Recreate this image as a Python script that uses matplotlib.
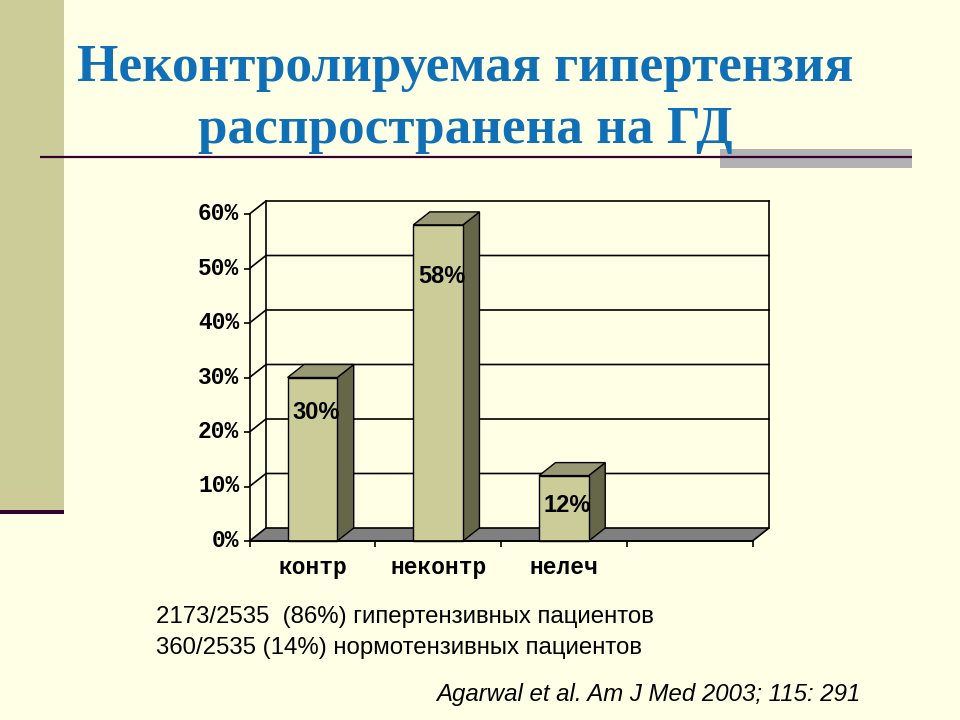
import matplotlib
matplotlib.use('Agg')
import matplotlib.pyplot as plt
from matplotlib.patches import Polygon, Rectangle
from matplotlib.transforms import ScaledTranslation

categories = ['контр', 'неконтр', 'нелеч', '']
values = [30, 58, 12]
bar_labels = ['30%', '58%', '12%']
y_ticks = [0, 10, 20, 30, 40, 50, 60]

bg = '#FFFFE5'
band = '#CCCC99'
dark = '#330033'
blue = '#0F6FB7'

W, H = 960, 720
fig = plt.figure(figsize=(9.6, 7.2), dpi=100, facecolor=bg)

# slide decoration, in pixels
deco = fig.add_axes([0, 0, 1, 1])
deco.set_xlim(0, W)
deco.set_ylim(H, 0)
deco.axis('off')
deco.add_patch(Rectangle((0, 0), 64, 510, color=band, lw=0))
deco.add_patch(Rectangle((0, 510), 64, 4, color=dark, lw=0))
deco.add_patch(Rectangle((720, 149), 192, 19, color='#B2B2B2', lw=0))
deco.plot([40, 912], [157, 157], color=dark, lw=1.6, solid_capstyle='butt')

deco.text(465.5, 68, 'Неконтролируемая гипертензия', family='Liberation Serif', weight='bold',
          fontsize=38.3, color=blue, ha='center', va='center')
deco.text(465.5, 130, 'распространена на ГД', family='Liberation Serif', weight='bold',
          fontsize=38.3, color=blue, ha='center', va='center')
deco.text(156, 617.5, '2173/2535  (86%) гипертензивных пациентов', family='Liberation Sans',
          fontsize=17.25, color='black', va='center')
deco.text(156, 648, '360/2535 (14%) нормотензивных пациентов', family='Liberation Sans',
          fontsize=17.25, color='black', va='center')
deco.text(436, 695, 'Agarwal et al. Am J Med 2003; 115: 291', family='Liberation Sans',
          style='italic', fontsize=17.27, color='black', va='center')

# front plane of the 3d chart
x0, x1, y_top, y_bot = 249.5, 752.5, 214, 541
ax = fig.add_axes([x0 / W, 1 - y_bot / H, (x1 - x0) / W, (y_bot - y_top) / H])
ax.patch.set_alpha(0)
ax.set_xlim(0, len(categories))
ax.set_ylim(0, 60)

dx = 16.5 / ((x1 - x0) / len(categories))
dy = 13 / ((y_bot - y_top) / 60)
xmax = len(categories)

ax.add_patch(Polygon([(0, 0), (xmax, 0), (xmax + dx, dy), (dx, dy)], closed=True,
                     facecolor='#808080', edgecolor='black', lw=1.2, clip_on=False, zorder=1))
ax.plot([dx, dx], [dy, 60 + dy], color='black', lw=1.2, clip_on=False, zorder=1)
ax.plot([xmax + dx, xmax + dx], [dy, 60 + dy], color='black', lw=1.2, clip_on=False, zorder=1)
for t in y_ticks[1:]:
    ax.plot([0, dx, xmax + dx], [t, t + dy, t + dy], color='black', lw=1.2, clip_on=False, zorder=1)

bar_w = 0.395
label_drop = [35, 52, 30]
for i, v in enumerate(values):
    left = i + 0.5 - bar_w / 2
    right = left + bar_w
    ax.add_patch(Polygon([(right, 0), (right + dx, dy), (right + dx, v + dy), (right, v)], closed=True,
                         facecolor='#666648', edgecolor='black', lw=1.0, clip_on=False, zorder=3))
    ax.add_patch(Polygon([(left, v), (right, v), (right + dx, v + dy), (left + dx, v + dy)], closed=True,
                         facecolor='#999973', edgecolor='black', lw=1.0, clip_on=False, zorder=3))
    ax.add_patch(Rectangle((left, 0), bar_w, v, facecolor=band, edgecolor='black', lw=1.0,
                           clip_on=False, zorder=4))
    ax.annotate(bar_labels[i], (left + bar_w / 2, v), xytext=(2.5, -label_drop[i] * 0.72),
                textcoords='offset points', ha='center', va='center', family='Liberation Sans',
                weight='bold', fontsize=17, color='black', zorder=5)

for s in ['top', 'right']:
    ax.spines[s].set_visible(False)
for s in ['left', 'bottom']:
    ax.spines[s].set_linewidth(1.2)
    ax.spines[s].set_zorder(6)

ax.set_yticks(y_ticks)
ax.set_yticklabels(['{}%'.format(t) for t in y_ticks], family='Liberation Mono', weight='bold', fontsize=16.5)
ax.tick_params(axis='y', length=4, width=1.2, pad=3.3)
for lab in ax.get_yticklabels():
    lab.set_transform(lab.get_transform() + ScaledTranslation(0, 3 / 100, fig.dpi_scale_trans))
ax.set_xticks(range(xmax + 1))
ax.set_xticklabels([])
ax.tick_params(axis='x', which='major', length=4, width=1.2)
ax.set_xticks([i + 0.5 for i in range(xmax)], minor=True)
ax.set_xticklabels(categories, minor=True, family='Liberation Mono', weight='bold', fontsize=16.5)
ax.tick_params(axis='x', which='minor', length=0, pad=11)

plt.savefig('out.png', dpi=100, facecolor=bg)
